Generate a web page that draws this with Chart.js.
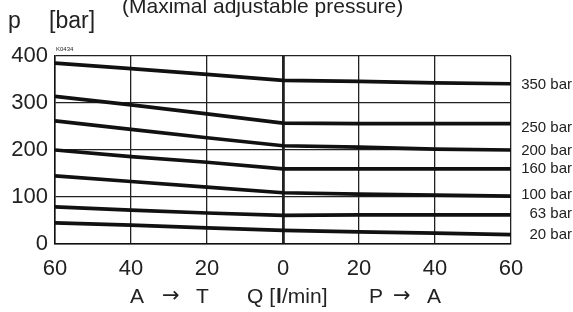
<!DOCTYPE html>
<html><head><meta charset="utf-8">
<script src="https://cdn.jsdelivr.net/npm/chart.js@4.4.0/dist/chart.umd.min.js"></script>
<style>html,body{margin:0;padding:0;background:#fff}#wrap{width:573px;height:312px}</style>
</head><body><div id="wrap"><canvas id="c" width="573" height="312"></canvas></div>
<script>
const flowQ = [-60, -40, -20, 0, 20, 40, 60];
const xTickLabels = ['60','40','20','0','20','40','60'];
const yTickLabels = ['0','100','200','300','400'];
const seriesNames = ['350 bar','250 bar','200 bar','160 bar','100 bar','63 bar','20 bar'];
const p350 = [385, 373, 361, 348, 346, 343, 341];
const p250 = [314, 296, 277, 257, 256, 256, 256];
const p200 = [262, 244, 226, 209, 206, 202, 200];
const p160 = [200, 186, 174, 160, 160, 160, 160];
const p100 = [145, 133, 121, 109, 106, 104, 102];
const p63  = [79, 72, 66, 61, 62, 62, 62];
const p20  = [45, 40, 34.5, 29, 26, 23, 20];
const allSeries = [p350, p250, p200, p160, p100, p63, p20];
const labelNudge = [1, 4, 1, 0, -1, -1, 0];

const FONT = '"Liberation Sans", Arial, sans-serif';
const ARROW_FONT = '"DejaVu Sans", sans-serif';

const datasets = allSeries.map((s, i) => ({
  label: seriesNames[i],
  data: s.map((v, j) => ({x: flowQ[j], y: v})),
  borderColor: '#111',
  borderWidth: 3.7,
  pointRadius: 0,
  tension: 0,
  fill: false
}));

const textPlugin = {
  id: 'texts',
  afterDraw(chart) {
    const ctx = chart.ctx;
    const ys = chart.scales.y;
    ctx.save();
    ctx.fillStyle = '#222';
    ctx.font = '15px ' + FONT;
    ctx.textAlign = 'right';
    ctx.textBaseline = 'middle';
    allSeries.forEach((s, i) => {
      const y = ys.getPixelForValue(s[s.length - 1]) + labelNudge[i];
      ctx.fillText(seriesNames[i], 572, y);
    });
    ctx.textAlign = 'left';
    ctx.textBaseline = 'alphabetic';
    ctx.font = '21px ' + FONT;
    ctx.fillText('(Maximal adjustable pressure)', 122, 12.5);
    ctx.font = '23px ' + FONT;
    ctx.textBaseline = 'middle';
    ctx.fillText('p', 8, 22);
    ctx.fillText('[bar]', 49, 22);
    ctx.font = '6px ' + FONT;
    ctx.textBaseline = 'alphabetic';
    ctx.fillText('K0434', chart.chartArea.left + 1, chart.chartArea.top - 5);
    ctx.textBaseline = 'middle';
    const yT = 297;
    const parts = [
      ['A', 130, ''], ['\u2192', 162, 'a'], ['T', 196, ''],
      ['Q [', 247, ''], ['l', 276, 'b'], ['/min]', 282, ''],
      ['P', 369, ''], ['\u2192', 393, 'a'], ['A', 427, '']
    ];
    parts.forEach(([t, x, k]) => {
      ctx.font = k === 'a' ? '21px ' + ARROW_FONT : (k === 'b' ? 'bold 21px ' + FONT : '21px ' + FONT);
      ctx.fillText(t, x, yT);
    });
    ctx.restore();
  }
};

new Chart(document.getElementById('c'), {
  type: 'line',
  data: { datasets },
  options: {
    responsive: false,
    animation: false,
    events: [],
    layout: { padding: { left: 0, top: 56, right: 62, bottom: 0 } },
    plugins: { legend: { display: false }, tooltip: { enabled: false } },
    scales: {
      x: {
        type: 'linear', min: -60, max: 60,
        afterFit(s) { s.height = 68; },
        afterBuildTicks(s) { s.ticks = flowQ.map(v => ({value: v})); },
        ticks: {
          padding: 12, color: '#222',
          font: { family: FONT, size: 22 },
          callback: (v, i) => xTickLabels[i]
        },
        grid: {
          color: '#222',
          lineWidth: c => (c.tick && c.tick.value === 0) ? 2.8 : 1.3,
          drawTicks: false
        },
        border: { display: true, color: '#111', width: 1.5 }
      },
      y: {
        min: 0, max: 400,
        afterFit(s) { s.width = 55; },
        afterBuildTicks(s) { s.ticks = yTickLabels.map(v => ({value: Number(v)})); },
        ticks: {
          padding: 7, color: '#222',
          font: { family: FONT, size: 22 },
          callback: (v, i) => yTickLabels[i]
        },
        grid: { color: '#222', lineWidth: 1.3, drawTicks: false },
        border: { display: true, color: '#111', width: 1.5 }
      }
    }
  },
  plugins: [textPlugin]
});
</script></body></html>
